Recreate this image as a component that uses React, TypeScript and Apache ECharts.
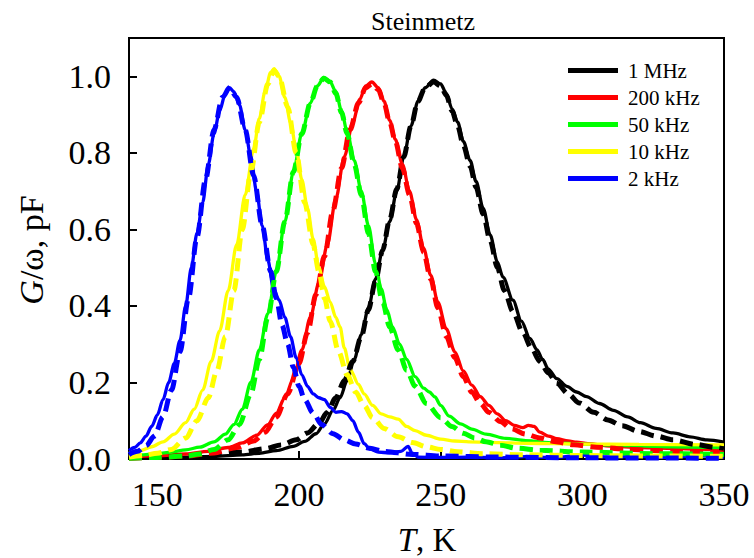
import React, { useEffect, useRef } from "react";
import * as echarts from "echarts";

// ---- data (T in K, G/ω in pF) ----
const xTicks = [150, 200, 250, 300, 350];
const yTicks = [0, 0.2, 0.4, 0.6, 0.8, 1.0];
const seriesNames = ["1 MHz", "200 kHz", "50 kHz", "10 kHz", "2 kHz"];

const exp1MHz: number[][] = [
  [140, 0.002], [150, 0.003], [160, 0.005], [170, 0.007], [180, 0.011], [186, 0.015], [192, 0.022],
  [198, 0.033], [202, 0.046], [206, 0.066], [209, 0.092], [212, 0.127], [214.5, 0.16], [217, 0.205],
  [219.5, 0.26], [222, 0.325], [224.5, 0.395], [227, 0.47], [229.5, 0.545], [232, 0.62], [234.5, 0.7],
  [237, 0.79], [239.5, 0.87], [242, 0.935], [244.5, 0.97], [247.5, 0.99], [250, 0.98], [252, 0.955],
  [254, 0.915], [256, 0.88], [258, 0.83], [260.4, 0.78], [262.5, 0.725], [265, 0.655], [267.5, 0.585],
  [270, 0.515], [272, 0.475], [275.5, 0.415], [278.5, 0.36], [281.5, 0.315], [284, 0.285], [286, 0.26],
  [288, 0.235], [291, 0.21], [294.5, 0.19], [298, 0.175], [301.5, 0.163], [306, 0.145], [311, 0.127],
  [316, 0.11], [320.5, 0.095], [326, 0.08], [332, 0.068], [338, 0.058], [344, 0.05], [350, 0.044],
];
const fit1MHz: number[][] = [
  [140, 0.003], [150, 0.005], [160, 0.008], [170, 0.012], [180, 0.018], [188, 0.027], [194, 0.037],
  [199, 0.05], [203, 0.068], [207, 0.093], [210, 0.122], [213, 0.16], [216, 0.205], [219, 0.255],
  [222, 0.32], [224.5, 0.39], [227, 0.465], [229.5, 0.545], [232, 0.625], [234.5, 0.705], [237, 0.79],
  [239.5, 0.87], [242, 0.935], [244.5, 0.97], [247.5, 0.985], [250, 0.975], [252, 0.95], [254, 0.91],
  [256, 0.87], [258, 0.82], [260.4, 0.765], [262.5, 0.71], [265, 0.64], [267.5, 0.57], [270, 0.5],
  [272.5, 0.44], [275.5, 0.385], [279, 0.33], [282, 0.29], [285, 0.255], [288, 0.225], [291, 0.198],
  [295, 0.17], [299, 0.146], [304, 0.122], [309, 0.102], [314, 0.087], [320, 0.072], [326, 0.06],
  [332, 0.05], [340, 0.038], [347, 0.03], [350, 0.027],
];

const exp200kHz: number[][] = [
  [140, 0.005], [150, 0.008], [160, 0.013], [168, 0.02], [175, 0.03], [180, 0.042], [185, 0.062],
  [189, 0.09], [192, 0.12], [195, 0.16], [198, 0.21], [201, 0.285], [204, 0.37], [207, 0.46],
  [210, 0.56], [213, 0.68], [216, 0.79], [219, 0.88], [221.5, 0.94], [223.5, 0.975], [225.7, 0.985],
  [228, 0.97], [230, 0.935], [232, 0.885], [234, 0.835], [236.5, 0.77], [239, 0.7], [241.5, 0.625],
  [244, 0.55], [246.5, 0.48], [249, 0.41], [252, 0.34], [255, 0.28], [258, 0.23], [261, 0.193],
  [264, 0.163], [267, 0.14], [270, 0.118], [273, 0.1], [276, 0.088], [279, 0.082], [281, 0.088],
  [283, 0.085], [285, 0.07], [288, 0.06], [291, 0.053], [295, 0.047], [298, 0.044], [302, 0.04],
  [310, 0.034], [320, 0.03], [330, 0.028], [340, 0.026], [350, 0.024],
];
const fit200kHz: number[][] = [
  [140, 0.002], [150, 0.004], [160, 0.008], [170, 0.016], [178, 0.03], [184, 0.047], [188, 0.07],
  [192, 0.11], [196, 0.17], [200, 0.25], [203, 0.33], [206, 0.43], [209, 0.53], [212, 0.65],
  [215, 0.76], [218, 0.86], [221, 0.93], [223.5, 0.97], [225.7, 0.98], [228, 0.965], [230, 0.93],
  [232, 0.88], [234, 0.83], [236.5, 0.76], [239, 0.69], [241.5, 0.615], [244, 0.54], [246.5, 0.47],
  [249, 0.395], [252, 0.32], [255, 0.265], [258, 0.215], [261, 0.175], [264, 0.145], [267, 0.122],
  [271, 0.098], [275, 0.079], [280, 0.065], [285, 0.055], [290, 0.046], [297, 0.037], [305, 0.031],
  [315, 0.026], [325, 0.022], [335, 0.019], [350, 0.015],
];

const exp50kHz: number[][] = [
  [140, 0.008], [145, 0.011], [150, 0.014], [155, 0.018], [160, 0.024], [165, 0.031], [170, 0.045],
  [174, 0.065], [177, 0.09], [180, 0.13], [183, 0.2], [186, 0.285], [189, 0.38], [192, 0.49],
  [195, 0.62], [198, 0.75], [201, 0.85], [204, 0.93], [206.5, 0.975], [208.8, 0.997], [211, 0.985],
  [213, 0.96], [215, 0.91], [217, 0.855], [219.5, 0.78], [222, 0.7], [224.5, 0.61], [227, 0.51],
  [229, 0.445], [231, 0.39], [233, 0.345], [235.5, 0.3], [238, 0.26], [241, 0.215], [244, 0.185],
  [246, 0.175], [248, 0.162], [250, 0.14], [253, 0.112], [257, 0.092], [261, 0.078], [266, 0.065],
  [273, 0.054], [280, 0.048], [290, 0.042], [300, 0.039], [315, 0.035], [330, 0.032], [350, 0.03],
];
const fit50kHz: number[][] = [
  [140, 0.002], [150, 0.004], [160, 0.008], [165, 0.013], [170, 0.025], [175, 0.05], [179, 0.09],
  [183, 0.17], [186, 0.26], [189, 0.37], [192, 0.49], [195, 0.62], [198, 0.75], [201, 0.85],
  [204, 0.93], [206.5, 0.975], [208.8, 0.995], [211, 0.985], [213, 0.955], [215, 0.905], [217, 0.85],
  [219.5, 0.77], [222, 0.69], [224.5, 0.59], [227, 0.49], [229.5, 0.41], [232, 0.345], [235, 0.285],
  [238, 0.232], [241, 0.19], [245, 0.145], [250, 0.108], [254, 0.085], [258, 0.067], [262, 0.055],
  [266, 0.045], [271, 0.036], [277, 0.028], [285, 0.023], [300, 0.018], [325, 0.014], [350, 0.012],
];

const exp10kHz: number[][] = [
  [140, 0.015], [144, 0.022], [148, 0.032], [152, 0.045], [156, 0.065], [160, 0.095], [163, 0.13],
  [166, 0.18], [169, 0.255], [172, 0.335], [175, 0.44], [178, 0.56], [181, 0.69], [184, 0.81],
  [186, 0.89], [188, 0.96], [190, 1.01], [191.2, 1.02], [193, 1.0], [195, 0.945], [197, 0.88],
  [199, 0.81], [201, 0.73], [203, 0.655], [205, 0.575], [207, 0.5], [209, 0.45], [211, 0.41],
  [213, 0.37], [214.5, 0.345], [216, 0.29], [218, 0.235], [221, 0.195], [223, 0.17], [226, 0.14],
  [229, 0.118], [232, 0.11], [235, 0.104], [238, 0.085], [241, 0.074], [245, 0.062], [250, 0.052],
  [255, 0.047], [260, 0.045], [270, 0.043], [280, 0.041], [290, 0.04], [300, 0.039], [320, 0.038],
  [350, 0.037],
];
const fit10kHz: number[][] = [
  [140, 0.005], [145, 0.009], [150, 0.015], [155, 0.025], [160, 0.055], [164, 0.1], [168, 0.16],
  [171, 0.23], [174, 0.32], [177, 0.44], [180, 0.6], [183, 0.75], [186, 0.88], [189, 0.98],
  [191.2, 1.015], [193, 1.0], [196, 0.92], [199, 0.8], [202, 0.67], [205, 0.56], [207, 0.49],
  [209, 0.42], [211, 0.36], [214, 0.28], [217, 0.22], [220, 0.175], [223, 0.14], [226, 0.108],
  [230, 0.08], [235, 0.058], [240, 0.043], [245, 0.032], [250, 0.025], [256, 0.019], [265, 0.014],
  [280, 0.011], [300, 0.009], [325, 0.008], [350, 0.007],
];

const exp2kHz: number[][] = [
  [140, 0.022], [142, 0.03], [144, 0.042], [146, 0.06], [148, 0.085], [150, 0.115], [152, 0.155],
  [154, 0.2], [156, 0.25], [158, 0.31], [160, 0.4], [162, 0.5], [164, 0.59], [166, 0.67], [168, 0.77],
  [170, 0.85], [172, 0.91], [174, 0.955], [175.5, 0.97], [177, 0.96], [179, 0.925], [181, 0.86],
  [183, 0.79], [185, 0.7], [187, 0.61], [189, 0.52], [191, 0.445], [193, 0.415], [195, 0.37],
  [197, 0.32], [199, 0.265], [201, 0.22], [203, 0.19], [205, 0.17], [207, 0.16], [209, 0.155],
  [211, 0.135], [213, 0.122], [215, 0.124], [217, 0.118], [219, 0.1], [221, 0.07], [223, 0.04],
  [225, 0.026], [228, 0.018], [232, 0.016], [236, 0.02], [238.5, 0.033], [240, 0.015], [242, 0.005],
  [250, 0.004], [260, 0.005], [270, 0.003], [280, 0.006], [290, 0.004], [300, 0.01], [310, 0.005],
  [320, 0.007], [330, 0.004], [340, 0.008], [350, 0.005],
];
const fit2kHz: number[][] = [
  [140, 0.012], [143, 0.02], [146, 0.035], [149, 0.06], [152, 0.11], [155, 0.18], [158, 0.28],
  [161, 0.42], [164, 0.58], [167, 0.73], [170, 0.86], [173, 0.945], [175.5, 0.97], [178, 0.945],
  [181, 0.86], [184, 0.74], [187, 0.61], [190, 0.49], [192, 0.42], [194, 0.35], [196, 0.3],
  [198, 0.24], [200, 0.19], [202, 0.155], [205, 0.12], [208, 0.09], [212, 0.066], [216, 0.05],
  [220, 0.039], [225, 0.028], [230, 0.02], [240, 0.012], [250, 0.008], [270, 0.005], [300, 0.003],
  [350, 0.002],
];

const expData = [exp1MHz, exp200kHz, exp50kHz, exp10kHz, exp2kHz];
const fitData = [fit1MHz, fit200kHz, fit50kHz, fit10kHz, fit2kHz];

// ---- styles ----
const colors = ["#000000", "#ff0000", "#00ff00", "#ffff00", "#0000ff"];
const FONT = "Liberation Serif";

export default function App() {
  const ref = useRef<HTMLDivElement>(null);

  useEffect(() => {
    if (!ref.current) return;
    const chart = echarts.init(ref.current, null, { renderer: "svg" });

    const solidSeries = seriesNames.map((name, i) => ({
      type: "line",
      name,
      data: expData[i],
      showSymbol: false,
      symbol: "none",
      smooth: 0.3,
      smoothMonotone: "x",
      lineStyle: { color: colors[i], width: 3.3, type: "solid" },
      itemStyle: { color: colors[i] },
      emphasis: { disabled: true },
      z: 2,
    }));
    const dashedSeries = seriesNames.map((name, i) => ({
      type: "line",
      name: name + " fit",
      data: fitData[i],
      showSymbol: false,
      symbol: "none",
      smooth: 0.3,
      smoothMonotone: "x",
      lineStyle: { color: colors[i], width: 5, type: [13, 7] },
      itemStyle: { color: colors[i] },
      emphasis: { disabled: true },
      z: 3,
    }));

    chart.setOption({
      animation: false,
      backgroundColor: "#ffffff",
      textStyle: { fontFamily: FONT, color: "#000" },
      title: {
        text: "Steinmetz",
        left: 366,
        top: 3,
        textStyle: { fontFamily: FONT, fontSize: 26, fontWeight: "normal", color: "#000" },
      },
      legend: {
        data: seriesNames,
        orient: "vertical",
        left: 563,
        top: 55,
        itemWidth: 50,
        itemHeight: 5,
        itemGap: 6,
        icon: "rect",
        textStyle: { fontFamily: FONT, fontSize: 21, color: "#000", padding: [0, 0, 0, 5] },
      },
      grid: {
        left: 129,
        right: 30,
        top: 38,
        bottom: 99,
        show: true,
        borderColor: "#000",
        borderWidth: 2,
        backgroundColor: "transparent",
        containLabel: false,
        outerBoundsMode: "none",
      },
      xAxis: {
        type: "value",
        min: 140,
        max: 350,
        axisLine: { show: true, lineStyle: { color: "#000", width: 2 } },
        axisTick: {
          show: true,
          inside: true,
          length: 8,
          lineStyle: { color: "#000", width: 2 },
          customValues: xTicks,
        },
        axisLabel: {
          customValues: xTicks,
          fontFamily: FONT,
          fontSize: 34,
          color: "#000",
          margin: 18,
        },
        splitLine: { show: false },
      },
      yAxis: {
        type: "value",
        min: 0,
        max: 1.1,
        axisLine: { show: true, lineStyle: { color: "#000", width: 2 } },
        axisTick: {
          show: true,
          inside: true,
          length: 8,
          lineStyle: { color: "#000", width: 2 },
          customValues: yTicks,
        },
        axisLabel: {
          customValues: yTicks,
          formatter: (v: number) => v.toFixed(1),
          fontFamily: FONT,
          fontSize: 34,
          color: "#000",
          margin: 18,
        },
        splitLine: { show: false },
      },
      graphic: [
        {
          type: "text",
          x: 427,
          y: 540,
          style: {
            text: "{i|T}, K",
            align: "center",
            verticalAlign: "middle",
            font: `33px ${FONT}`,
            fill: "#000",
            rich: {
              i: { fontStyle: "italic", fontSize: 33, fontFamily: FONT, fill: "#000" },
            },
          },
        },
        {
          type: "text",
          x: 31,
          y: 250,
          rotation: Math.PI / 2,
          style: {
            text: "{i|G}/ω, pF",
            align: "center",
            verticalAlign: "middle",
            font: `34px ${FONT}`,
            fill: "#000",
            rich: {
              i: { fontStyle: "italic", fontSize: 34, fontFamily: FONT, fill: "#000" },
            },
          },
        },
      ],
      series: [...solidSeries, ...dashedSeries],
    });

    return () => chart.dispose();
  }, []);

  return (
    <div
      ref={ref}
      style={{ position: "absolute", left: 0, top: 0, width: 754, height: 558 }}
    />
  );
}
